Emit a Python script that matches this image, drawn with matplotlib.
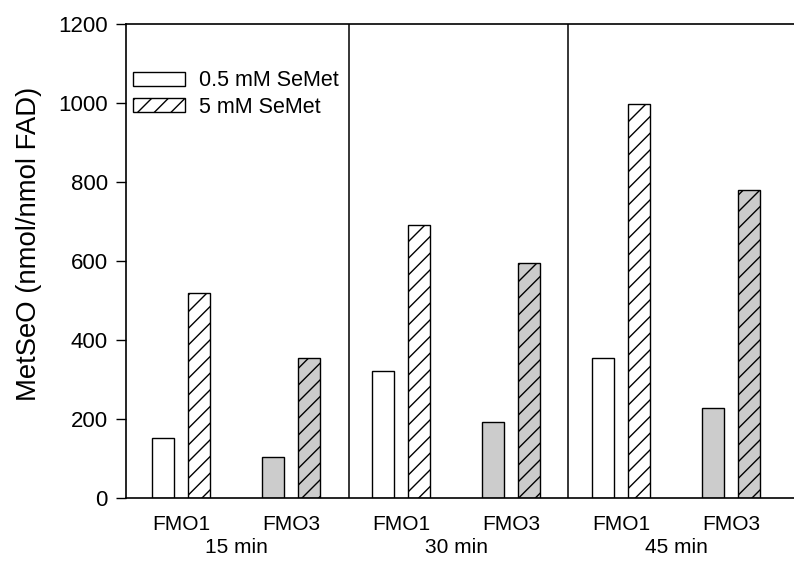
import numpy as np
import matplotlib.pyplot as plt
from matplotlib.patches import Patch

plt.rcParams['font.family'] = ['Liberation Sans', 'DejaVu Sans']
plt.rcParams['hatch.linewidth'] = 1.0

# valores
tiempos = ['15 min', '30 min', '45 min']
enzimas = ['FMO1', 'FMO3']
fmo1_05 = [152, 322, 355]
fmo1_5 = [519, 692, 997]
fmo3_05 = [104, 193, 227]
fmo3_5 = [354, 596, 781]
series = ['0.5 mM SeMet', '5 mM SeMet']

fig = plt.figure(figsize=(7.94, 5.72), dpi=100)
ax = fig.add_axes([0.1587, 0.1294, 0.8413, 0.8286])

ancho = 1.0
desp = 0.835
periodo = 10.0
gris = '#cccccc'

centros_fmo1 = np.arange(3) * periodo + 2.5
centros_fmo3 = np.arange(3) * periodo + 7.5

ax.bar(centros_fmo1 - desp, fmo1_05, ancho, color='white', edgecolor='black', lw=1)
ax.bar(centros_fmo1 + desp, fmo1_5, ancho, color='white', edgecolor='black', lw=1, hatch='//')
ax.bar(centros_fmo3 - desp, fmo3_05, ancho, color=gris, edgecolor='black', lw=1)
ax.bar(centros_fmo3 + desp, fmo3_5, ancho, color=gris, edgecolor='black', lw=1, hatch='//')

# separadores entre tiempos
for xs in [10.15, 20.1]:
    ax.axvline(xs, color='black', lw=1.1)

ax.set_xlim(0, 30.36)
ax.set_ylim(0, 1200)
ax.set_yticks(np.arange(0, 1201, 200))
ax.tick_params(axis='y', direction='out', length=7, width=1, labelsize=16, pad=6)

pos = np.sort(np.concatenate([centros_fmo1, centros_fmo3]))
ax.set_xticks(pos)
ax.set_xticklabels(enzimas * 3, fontsize=15)
ax.tick_params(axis='x', length=0, pad=12)

for i, t in enumerate(tiempos):
    ax.text(i * periodo + 5.0, -0.085, t, transform=ax.get_xaxis_transform(),
            ha='center', va='top', fontsize=15)

ax.spines['right'].set_visible(False)
for s in ['left', 'top', 'bottom']:
    ax.spines[s].set_linewidth(1.2)

ax.set_ylabel('MetSeO (nmol/nmol FAD)', fontsize=19.8)
ax.yaxis.set_label_coords(-0.1257, 0.536)

handles = [Patch(facecolor='white', edgecolor='black', lw=1),
           Patch(facecolor='white', edgecolor='black', lw=1, hatch='//')]
ax.legend(handles, series, loc='upper left', bbox_to_anchor=(0.0105, 0.902),
          frameon=False, fontsize=15.5, handlelength=2.4, handleheight=0.65,
          labelspacing=0.25, handletextpad=0.65, borderpad=0, borderaxespad=0)

fig.savefig('out.png', dpi=100)
